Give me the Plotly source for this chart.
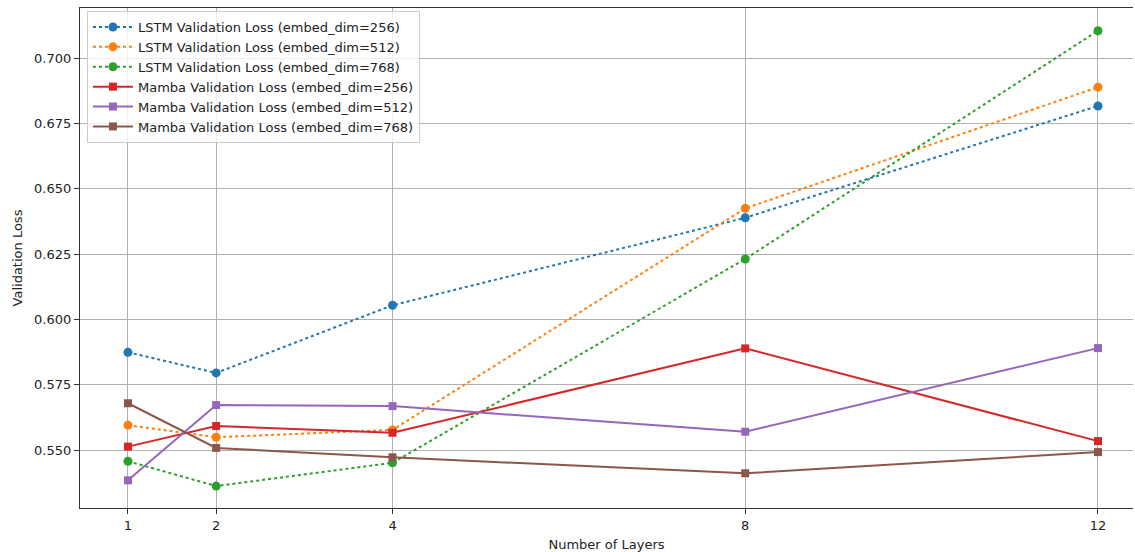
import plotly.graph_objects as go

layers = [1, 2, 4, 8, 12]
lstm_256 = [0.5874, 0.5795, 0.6054, 0.6389, 0.6817]
lstm_512 = [0.5595, 0.5549, 0.5577, 0.6425, 0.6889]
lstm_768 = [0.5457, 0.5362, 0.5451, 0.6231, 0.7105]
mamba_256 = [0.5513, 0.5592, 0.5566, 0.5889, 0.5534]
mamba_512 = [0.5384, 0.5672, 0.5668, 0.5570, 0.5890]
mamba_768 = [0.5679, 0.5508, 0.5472, 0.5411, 0.5492]

series = [
    ("LSTM Validation Loss (embed_dim=256)", lstm_256, "#1f77b4", "dot", "circle"),
    ("LSTM Validation Loss (embed_dim=512)", lstm_512, "#ff7f0e", "dot", "circle"),
    ("LSTM Validation Loss (embed_dim=768)", lstm_768, "#2ca02c", "dot", "circle"),
    ("Mamba Validation Loss (embed_dim=256)", mamba_256, "#d62728", "solid", "square"),
    ("Mamba Validation Loss (embed_dim=512)", mamba_512, "#9467bd", "solid", "square"),
    ("Mamba Validation Loss (embed_dim=768)", mamba_768, "#8c564b", "solid", "square"),
]

fig = go.Figure()
for name, ys, color, dash, sym in series:
    fig.add_trace(go.Scatter(
        x=layers, y=ys, name=name, mode="lines+markers",
        line=dict(color=color, width=2, dash=dash),
        marker=dict(color=color, size=9 if sym == "circle" else 8, symbol=sym),
    ))

font = dict(family="DejaVu Sans", size=13, color="#222")
fig.update_layout(
    width=1135, height=552,
    margin=dict(l=80, r=2, t=8, b=44),
    plot_bgcolor="white", paper_bgcolor="white",
    font=font,
    showlegend=True,
    legend=dict(x=0.0066, y=0.994, xanchor="left", yanchor="top",
                bgcolor="rgba(255,255,255,0.8)", bordercolor="#cccccc", borderwidth=1,
                font=dict(family="DejaVu Sans", size=13, color="#222"),
                tracegroupgap=0, itemwidth=40),
    xaxis=dict(
        title=dict(text="Number of Layers", font=font, standoff=8),
        range=[0.456, 12.397], tickvals=layers, ticktext=[str(v) for v in layers],
        showgrid=True, gridcolor="#b0b0b0", gridwidth=1,
        showline=True, linecolor="#333", linewidth=1.2, mirror=True,
        ticks="outside", ticklen=5, tickcolor="#333", zeroline=False,
    ),
    yaxis=dict(
        title=dict(text="Validation Loss", font=font, standoff=8),
        range=[0.5278, 0.7192],
        tickvals=[0.550, 0.575, 0.600, 0.625, 0.650, 0.675, 0.700],
        ticktext=["0.550", "0.575", "0.600", "0.625", "0.650", "0.675", "0.700"],
        showgrid=True, gridcolor="#b0b0b0", gridwidth=1,
        showline=True, linecolor="#333", linewidth=1.2, mirror=False,
        ticks="outside", ticklen=5, tickcolor="#333", zeroline=False,
    ),
)
fig.write_html("out.html")
